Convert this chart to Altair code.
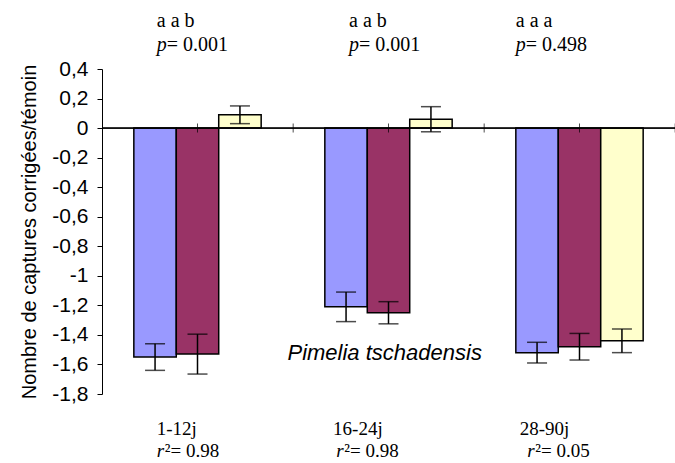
import altair as alt
import pandas as pd

# ---- data ----
groups = ["1-12j", "16-24j", "28-90j"]
series = ["Série 1", "Série 2", "Série 3"]
colors = ["#9999FF", "#993366", "#FFFFCC"]

mean_s1 = [-1.55, -1.21, -1.52]
mean_s2 = [-1.53, -1.25, -1.48]
mean_s3 = [0.09, 0.06, -1.44]
err_s1 = [0.09, 0.10, 0.07]
err_s2 = [0.135, 0.075, 0.09]
err_s3 = [0.06, 0.085, 0.08]

letters = ["a a b", "a a b", "a a a"]
p_values = ["0.001", "0.001", "0.498"]
r2_values = ["0.98", "0.98", "0.05"]
species = "Pimelia tschadensis"
y_title = "Nombre de captures corrigées/témoin"
y_ticks = [0.4, 0.2, 0, -0.2, -0.4, -0.6, -0.8, -1, -1.2, -1.4, -1.6, -1.8]

# ---- tables ----
rows = []
for s, means, errs in zip(series, [mean_s1, mean_s2, mean_s3], [err_s1, err_s2, err_s3]):
    for g, m, e in zip(groups, means, errs):
        rows.append({"group": g, "series": s, "mean": m, "lo": m - e, "hi": m + e})
bars_df = pd.DataFrame(rows)

text_df = pd.DataFrame({
    "group": groups,
    "letters": letters,
    "p_rest": ["= " + p for p in p_values],
    "r2_rest": ["\u00b2= " + r for r in r2_values],
})

# layout (band positions of the free text boxes, per group)
top_band = [0.18, 0.19, 0.0]
period_band = [0.18, 0.065, 0.03]
r2_band = [0.18, 0.09, 0.09]

serif = "Liberation Serif"
sans = "Liberation Sans"

x_scale = alt.Scale(domain=groups, paddingInner=1 / 3, paddingOuter=1 / 6)
y_scale = alt.Scale(domain=[-1.8, 0.4], nice=False, zero=False)
y_axis = alt.Axis(
    values=y_ticks,
    labelExpr="replace(toString(round(datum.value*10)/10), '.', ',')",
    grid=False,
    labelOverlap=False,
    labelFlush=False,
)


def xg(band=0.5):
    return alt.X("group:N", scale=x_scale, axis=None, bandPosition=band)


def yf(field):
    return alt.Y(field, scale=y_scale, axis=y_axis, title=y_title, stack=None)


def yd(value):
    return alt.YDatum(value, scale=y_scale, axis=y_axis, title=y_title)


xoff = alt.XOffset("series:N", scale=alt.Scale(domain=series, paddingInner=0, paddingOuter=0))
xbar = alt.X("group:N", scale=x_scale, axis=None)

bars = alt.Chart(bars_df).mark_bar(stroke="black", strokeWidth=1.5).encode(
    x=xbar,
    xOffset=xoff,
    y=yf("mean:Q"),
    color=alt.Color("series:N", scale=alt.Scale(domain=series, range=colors), legend=None),
)

zero_line = alt.Chart(text_df).mark_rule(color="black", strokeWidth=1).encode(y=yd(0))

ticks_mid = alt.Chart(text_df).mark_tick(orient="vertical", size=9, thickness=1, color="black").encode(
    x=xg(0.5), y=yd(0)
)
ticks_edge = alt.Chart(text_df).mark_tick(orient="vertical", size=9, thickness=1, color="black", xOffset=32).encode(
    x=xg(1.0), y=yd(0)
)

err_rule = alt.Chart(bars_df).mark_rule(color="black", strokeWidth=1.5).encode(
    x=xbar, xOffset=xoff, y=yf("lo:Q"), y2="hi:Q"
)
cap_lo = alt.Chart(bars_df).mark_tick(orient="horizontal", size=20, thickness=1.5, color="black").encode(
    x=xbar, xOffset=xoff, y=yf("lo:Q")
)
cap_hi = alt.Chart(bars_df).mark_tick(orient="horizontal", size=20, thickness=1.5, color="black").encode(
    x=xbar, xOffset=xoff, y=yf("hi:Q")
)

layers = [bars, zero_line, ticks_mid, ticks_edge, err_rule, cap_lo, cap_hi]

for i, g in enumerate(groups):
    base = alt.Chart(text_df).transform_filter(alt.datum.group == g)
    txt = dict(font=serif, fontSize=20, align="left", baseline="alphabetic", color="black")
    low = dict(txt, fontSize=19)
    layers.append(base.mark_text(**txt).encode(x=xg(top_band[i]), y=yd(0.684), text="letters:N"))
    layers.append(base.mark_text(fontStyle="italic", **txt).encode(x=xg(top_band[i]), y=yd(0.521), text=alt.value("p")))
    layers.append(base.mark_text(dx=10, **txt).encode(x=xg(top_band[i]), y=yd(0.521), text="p_rest:N"))
    layers.append(base.mark_text(**low).encode(x=xg(period_band[i]), y=yd(-2.0775), text="group:N"))
    layers.append(base.mark_text(fontStyle="italic", **low).encode(x=xg(r2_band[i]), y=yd(-2.2265), text=alt.value("r")))
    layers.append(base.mark_text(dx=8, **low).encode(x=xg(r2_band[i]), y=yd(-2.2265), text="r2_rest:N"))

species_text = alt.Chart(text_df).transform_filter(alt.datum.group == groups[1]).mark_text(
    font=sans, fontSize=22, fontStyle="italic", align="center", baseline="alphabetic", color="black"
).encode(x=xg(0.47), y=yd(-1.571), text=alt.value(species))
layers.append(species_text)

chart = alt.layer(*layers).properties(
    width=573,
    height=325,
    background="white",
    autosize=alt.AutoSizeParams(type="none"),
    padding={"left": 102, "top": 69, "right": 0, "bottom": 69},
).configure_view(stroke=None).configure_axis(
    domainColor="black",
    tickColor="black",
    labelColor="black",
    titleColor="black",
    labelFont=sans,
    titleFont=sans,
    labelFontSize=21,
    titleFontSize=20,
    titleFontWeight="normal",
    tickSize=5,
    labelPadding=9,
    titlePadding=12,
    domainWidth=1,
    tickWidth=1,
)

chart.save("out.html", embed_options={"renderer": "svg", "actions": False})
